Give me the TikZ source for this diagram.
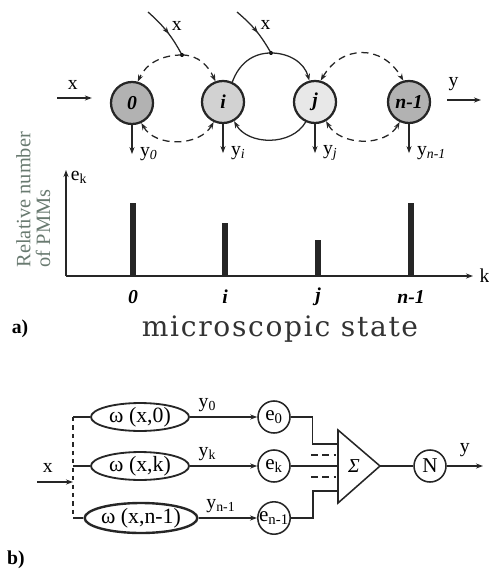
\documentclass[tikz,border=0pt]{standalone}
\usepackage{fontspec}
\setmainfont{Liberation Serif}
\newfontfamily\wideserif[LetterSpace=6]{DejaVu Serif}
\usetikzlibrary{arrows.meta,calc,decorations.markings,positioning,shapes.geometric}
\definecolor{labelgray}{RGB}{105,122,112}

\begin{document}
\begin{tikzpicture}[x=0.025cm,y=0.025cm,>={Stealth[length=5pt,width=3.6pt]},
  line width=0.9pt,draw=black!85,
  every node/.style={font=\fontsize{14}{16}\selectfont},
  state/.style={circle,draw=black!85,line width=1.6pt,minimum size=1.05cm,inner sep=0pt,
    font=\fontsize{14}{16}\selectfont\bfseries\itshape},
  longdash/.style={dash pattern=on 5pt off 3.5pt},
  midarrow/.style={postaction={decorate},
    decoration={markings,mark=at position 0.55 with {\arrow{>}}}},
  omega/.style={ellipse,draw=black!85,line width=1.3pt,minimum width=2.45cm,minimum height=0.6cm,inner sep=0pt,
    font=\fontsize{15.5}{17}\selectfont},
  ecirc/.style={circle,draw=black!85,line width=1.1pt,minimum size=0.8cm,inner sep=0pt,
    font=\fontsize{15}{17}\selectfont},
  bar/.style={line width=0.15cm,draw=black!85}]
  \useasboundingbox (0,0) rectangle (488,-577);
  % a) chain of states
  \node[state,fill=gray!60] (s0) at (132,-103) {0};
  \node[state,fill=gray!35] (si) at (223,-102) {i};
  \node[state,fill=gray!18] (sj) at (315,-102) {j};
  \node[state,fill=gray!60] (sn) at (409,-102) {n-1};
  % inputs x on the upper arcs
  \coordinate (d1) at (182,-55);
  \coordinate (d2) at (271,-53);
  \coordinate (xa) at (148,-12);
  \coordinate (xb) at (237,-12);
  \draw[midarrow] (xa) to[bend left=10] node[pos=0.35,right=3pt] (lx1) {x} (d1);
  \draw[midarrow] (xb) to[bend left=10] node[pos=0.35,right=3pt] (lx2) {x} (d2);
  \fill (d1) circle (2);
  \fill (d2) circle (2);
  \draw[longdash,->] (d1) to[out=180,in=65] (s0.75);
  \draw[longdash,->] (d1) to[out=0,in=115] (si.110);
  \draw[->] (si.65) to[out=70,in=180] (d2) to[out=0,in=105] (sj.105);
  \draw[longdash,<->] (sj.75) to[out=60,in=120,looseness=1.3] (sn.105);
  % lower arcs
  \draw[longdash,<->] (s0.-65) to[out=-60,in=-120] (si.-115);
  \draw[<-] (si.-60) to[out=-60,in=-120] (sj.-115);
  \draw[longdash,<->] (sj.-60) to[out=-60,in=-120] (sn.-115);
  % chain input and output
  \coordinate (xin) at (57,-98);
  \coordinate (yout) at (481,-100);
  \draw[->,shorten >=0.45cm] (xin) -- (xin -| s0.west) node[pos=0.3,above=2pt] (lx) {x};
  \draw[->,shorten <=0.4cm] (yout -| sn.east) -- (yout) node[pos=0.45,above=3pt] (ly) {y};
  \foreach \s/\t in {s0/0,si/i,sj/j,sn/n-1}
    \draw[->] (\s.south) -- ++(0,-29) node[right=2pt] {y\textsubscript{\textit{\t}}};
  % relative number of PMMs
  \coordinate (o) at (66,-276);
  \draw[->] (o) -- (66,-170) node[anchor=south west,inner sep=0pt,xshift=3pt,yshift=-10pt] (ek) {e\textsubscript{k}};
  \draw[->] (o) -- (473,-276) node[right=1pt] (kk) {k};
  \foreach \x/\h/\t in {133/73/0,225/53/i,318/36/j,411/73/n-1} {
    \draw[bar] (\x,-276) -- ++(0,\h);
    \node[font=\fontsize{14}{16}\selectfont\bfseries\itshape] at (\x,-297) {\t};
  }
  \node[rotate=90,anchor=south west,align=left,text=labelgray,inner sep=0pt,
    font=\fontsize{14.5}{14}\selectfont] (rel) at (51,-268) {Relative number\\of PMMs};
  \node[font=\fontsize{14}{16}\selectfont\bfseries] (la) at (20,-329) {a)};
  \node[font=\wideserif\fontsize{20}{22}\selectfont,text=black!80] (ms) at (280,-329) {microscopic state};
  % b) block scheme
  \node[omega] (w0) at (140,-417) {ω (x,0)};
  \node[omega] (wk) at (140,-466) {ω (x,k)};
  \node[omega,minimum width=2.6cm,minimum height=0.75cm,line width=1.7pt] (wn) at (141,-518) {ω (x,n-1)};
  \node[ecirc] (e0) at (274,-417) {e\textsubscript{0}};
  \node[ecirc] (ekk) at (274,-466) {e\textsubscript{k}};
  \node[ecirc] (en) at (274,-518) {e\textsubscript{n-1}};
  \coordinate (b0) at (73,-417);
  \coordinate (bk) at (73,-466);
  \coordinate (bn) at (73,-518);
  \coordinate (bx) at (73,-482);
  \coordinate (xl) at (37,-482);
  \draw[dashed] (b0) -- (bn);
  \draw (b0) -- (w0);
  \draw (bk) -- (wk);
  \draw (bn) -- (wn);
  \draw[->] (xl) -- (bx) node[pos=0.3,above=3pt] (lxb) {x};
  \draw[->] (w0) -- (e0) node[pos=0.1,anchor=south west,inner sep=1pt,yshift=2pt] {y\textsubscript{0}};
  \draw[->] (wk) -- (ekk) node[pos=0.1,anchor=south west,inner sep=1pt,yshift=2pt] {y\textsubscript{k}};
  \draw[->] (wn) -- (en) node[pos=0.1,anchor=south west,inner sep=1pt,yshift=2pt] {y\textsubscript{n-1}};
  % summing triangle and normalisation
  \coordinate (ta) at (338,-430);
  \coordinate (tap) at (380,-466);
  \coordinate (tb) at (338,-503);
  \draw[line width=1.1pt] (ta) -- (tap) -- (tb) -- cycle;
  \node (sig) at (354,-466) {\textit{Σ}};
  \coordinate (in0) at (338,-444);
  \coordinate (ink) at (338,-466);
  \coordinate (inn) at (338,-491);
  \draw (e0.east) -- ++(22,0) |- (in0);
  \draw (ekk) -- (ink);
  \draw (en.east) -- ++(22,0) |- (inn);
  \draw[dash pattern=on 5pt off 3pt] (311,-455) -- (336,-455);
  \draw[dash pattern=on 5pt off 3pt] (311,-477) -- (336,-477);
  \node[ecirc] (nn) at (430,-466) {N};
  \coordinate (yb) at (483,-466);
  \draw (tap) -- (nn);
  \draw[->] (nn) -- (yb) node[midway,above=3pt] (lyb) {y};
  \node[font=\fontsize{14}{16}\selectfont\bfseries] (lb) at (16,-560) {b)};
\end{tikzpicture}
\end{document}
